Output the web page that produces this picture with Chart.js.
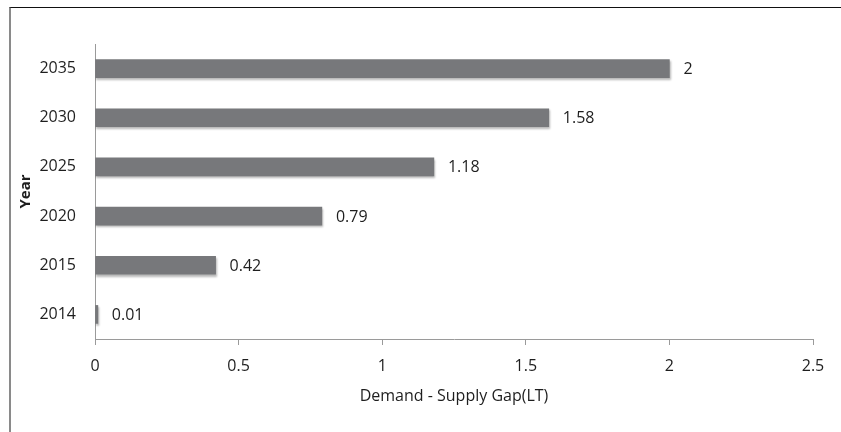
<!DOCTYPE html>
<html>
<head>
<meta charset="utf-8">
<title>Demand - Supply Gap</title>
<script src="https://cdn.jsdelivr.net/npm/chart.js@4/dist/chart.umd.min.js"></script>
<style>
    html, body { margin: 0; padding: 0; background: #fff; }
    #wrap { position: relative; width: 841px; height: 432px; overflow: hidden; }
    #frame {
        position: absolute; left: 9px; top: 7px; right: 0; bottom: 0;
        border-top: 1px solid #111; border-left: 2px solid #8a8a8a;
        pointer-events: none;
    }
    canvas { position: absolute; left: 0; top: 0; }
</style>
</head>
<body>
<div id="wrap">
    <canvas id="gap-chart" width="841" height="432"></canvas>
    <div id="frame"></div>
</div>
<script>
// Chart data
var years = ['2014', '2015', '2020', '2025', '2030', '2035'];
var gapValues = [0.01, 0.42, 0.79, 1.18, 1.58, 2];
var xTicks = [0, 0.5, 1, 1.5, 2, 2.5];

(function() {
    'use strict';

    var FONT = "'Open Sans', 'DejaVu Sans', sans-serif";
    var TEXT = '#1e1e1e';
    var AXIS = '#9a9a9a';

    // Soft drop shadow under the bars, then value labels on top
    var barShadow = {
        id: 'barShadow',
        beforeDatasetsDraw: function(chart) {
            var ctx = chart.ctx;
            ctx.save();
            ctx.shadowColor = 'rgba(0, 0, 0, 0.28)';
            ctx.shadowBlur = 2;
            ctx.shadowOffsetX = 1;
            ctx.shadowOffsetY = 2;
        },
        afterDatasetsDraw: function(chart) {
            var ctx = chart.ctx;
            ctx.restore();

            var meta = chart.getDatasetMeta(0);
            ctx.save();
            ctx.font = '16px ' + FONT;
            ctx.fillStyle = TEXT;
            ctx.textAlign = 'left';
            ctx.textBaseline = 'middle';
            meta.data.forEach(function(bar, i) {
                ctx.fillText(String(gapValues[i]), bar.x + 14, bar.y + 1);
            });
            ctx.restore();
        }
    };

    var ctx = document.getElementById('gap-chart').getContext('2d');

    new Chart(ctx, {
        type: 'bar',
        data: {
            labels: years,
            datasets: [{
                label: 'Demand - Supply Gap(LT)',
                data: gapValues,
                backgroundColor: '#77787b',
                borderWidth: 0,
                barThickness: 18
            }]
        },
        options: {
            indexAxis: 'y',
            responsive: false,
            animation: false,
            layout: {
                padding: { top: 44, right: 28, bottom: 0, left: 0 }
            },
            plugins: {
                legend: { display: false },
                tooltip: { enabled: false }
            },
            scales: {
                x: {
                    min: 0,
                    max: 2.5,
                    afterBuildTicks: function(scale) {
                        scale.ticks = xTicks.map(function(v) { return { value: v }; });
                    },
                    afterFit: function(scale) {
                        scale.height = 93;
                    },
                    grid: {
                        drawOnChartArea: false,
                        drawTicks: true,
                        tickLength: 6,
                        color: AXIS
                    },
                    border: { color: AXIS, width: 1 },
                    ticks: {
                        padding: 12,
                        color: TEXT,
                        font: { family: FONT, size: 16 },
                        maxRotation: 0,
                        callback: function(value) {
                            return String(value);
                        }
                    },
                    title: {
                        display: true,
                        text: 'Demand - Supply Gap(LT)',
                        color: TEXT,
                        font: { family: FONT, size: 16 },
                        padding: { top: 0, bottom: 26 }
                    }
                },
                y: {
                    reverse: true,
                    afterFit: function(scale) {
                        scale.width = 95;
                    },
                    grid: {
                        drawOnChartArea: false,
                        drawTicks: false
                    },
                    border: { color: AXIS, width: 1 },
                    ticks: {
                        padding: 19,
                        color: TEXT,
                        font: { family: FONT, size: 16 }
                    },
                    title: {
                        display: true,
                        text: 'Year',
                        color: TEXT,
                        font: { family: FONT, size: 15, weight: 'bold' },
                        padding: { top: 17, bottom: 0 }
                    }
                }
            }
        },
        plugins: [barShadow]
    });
})();
</script>
</body>
</html>
